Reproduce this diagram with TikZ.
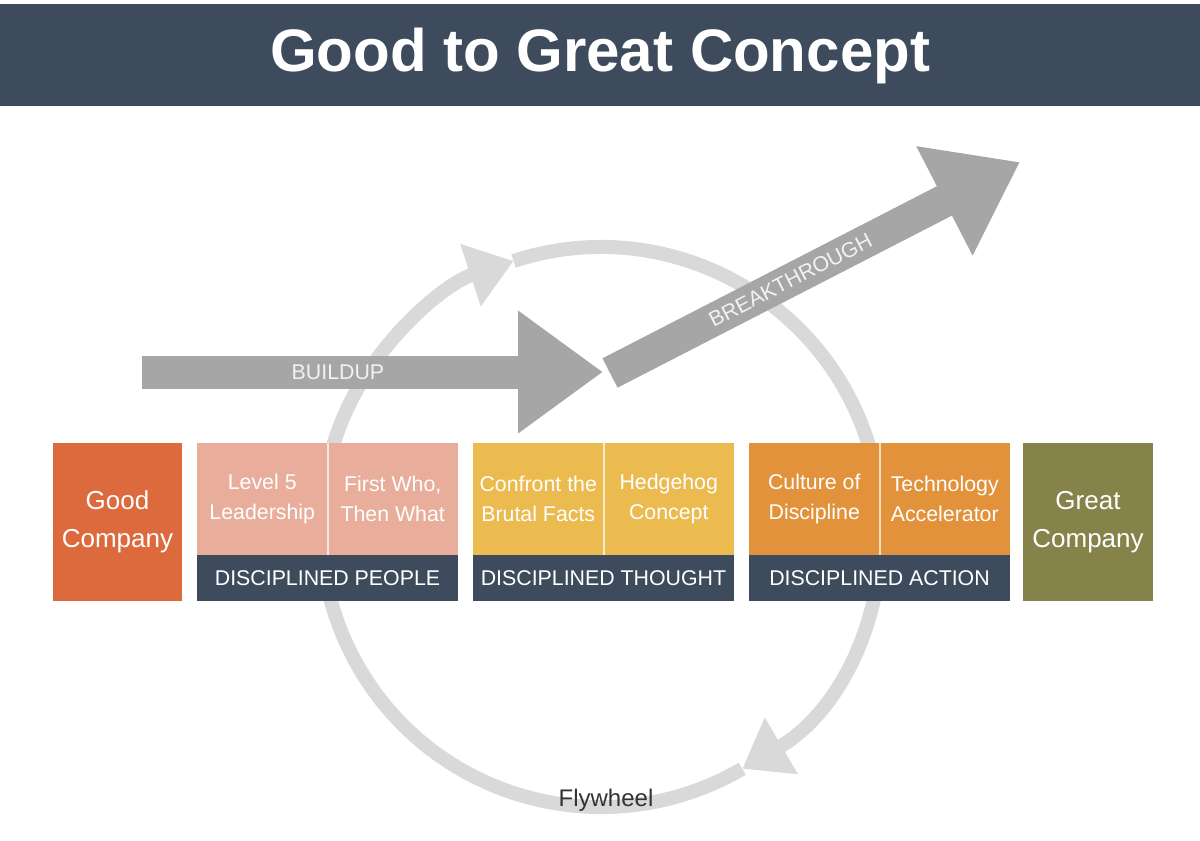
\documentclass[tikz,border=0pt]{standalone}
\usepackage{fontspec}
\setmainfont{Liberation Sans}
\usetikzlibrary{arrows.meta}
\definecolor{slatebar}{RGB}{61,75,93}
\definecolor{rust}{RGB}{220,106,61}
\definecolor{salmon}{RGB}{232,174,155}
\definecolor{mustard}{RGB}{235,187,80}
\definecolor{amber}{RGB}{226,146,58}
\definecolor{olive}{RGB}{133,131,74}
\definecolor{arrowgray}{RGB}{166,166,166}
\definecolor{wheelgray}{RGB}{217,217,217}
\definecolor{inkgray}{RGB}{51,51,51}

\begin{document}
\begin{tikzpicture}[x=0.75pt,y=-0.75pt,
  company/.style={minimum width=97pt,minimum height=118.5pt,inner sep=0pt,align=center,text=white,font=\fontsize{19.5}{28.5}\selectfont},
  half/.style={minimum width=97.875pt,minimum height=84pt,inner sep=0pt,align=center,text=white,font=\fontsize{16}{22.5}\selectfont},
  band/.style={fill=slatebar,minimum width=195.75pt,minimum height=34.5pt,inner sep=0pt,text=white,font=\fontsize{16}{19}\selectfont},
  bigarrow/.style={arrowgray,line width=24.75pt,-{Triangle[length=63.75pt,width=87.75pt]}},
  arrowtext/.style={text=white!95!black,font=\fontsize{16}{19}\selectfont,inner sep=0pt},
  wheel/.style={wheelgray,line width=10.5pt,-{Triangle[length=34pt,width=47pt]}}]
  \useasboundingbox (0,0) rectangle (1200,840);
  \fill[white] (0,0) rectangle (1200,840);
  \fill[slatebar] (0,4) rectangle (1200,106);
  \node[text=white,font=\fontsize{45}{54}\selectfont\bfseries] (title) at (600,56) {Good to Great Concept};
  % flywheel
  \coordinate (hub) at (601,527);
  \draw[wheel] ([shift={(251.8:280)}]hub) arc[start angle=251.8,end angle=419.7,radius=280];
  \draw[wheel] ([shift={(59.7:280)}]hub) arc[start angle=59.7,end angle=251.8,radius=280];
  \node[text=inkgray,font=\fontsize{18}{21}\selectfont] (flylabel) at (606,800) {Flywheel};
  % buildup and breakthrough
  \coordinate (bu-tail) at (142,372);
  \coordinate (bu-tip) at (603,372);
  \coordinate (bt-tail) at (610,373);
  \coordinate (bt-tip) at (1020,162);
  \draw[bigarrow] (bu-tail) -- (bu-tip) node[pos=0.425,arrowtext] (buildup) {BUILDUP};
  \draw[bigarrow] (bt-tail) -- (bt-tip) node[pos=0.44,sloped,arrowtext] (breakthrough) {BREAKTHROUGH};
  % companies and disciplines
  \node[company,fill=rust] (good) at (117.5,522) {Good\\Company};
  \node[company,fill=olive] (great) at (1088,522) {Great\\Company};
  \foreach \gx/\fillc/\lt/\rt/\bt/\gn in {
    197/salmon/{Level 5\\Leadership}/{First Who,\\Then What}/DISCIPLINED PEOPLE/people,
    473/mustard/{Confront the\\Brutal Facts}/{Hedgehog\\Concept}/DISCIPLINED THOUGHT/thought,
    749/amber/{Culture of\\Discipline}/{Technology\\Accelerator}/DISCIPLINED ACTION/action
  } {
    \node[half,fill=\fillc] (\gn-l) at (\gx+65.25,499) {\lt};
    \node[half,fill=\fillc] (\gn-r) at (\gx+195.75,499) {\rt};
    \node[band] (\gn-band) at (\gx+130.5,578) {\bt};
    \draw[white!70!\fillc,line width=1.2pt] (\gn-l.north east) -- (\gn-l.south east);
  }
\end{tikzpicture}
\end{document}
